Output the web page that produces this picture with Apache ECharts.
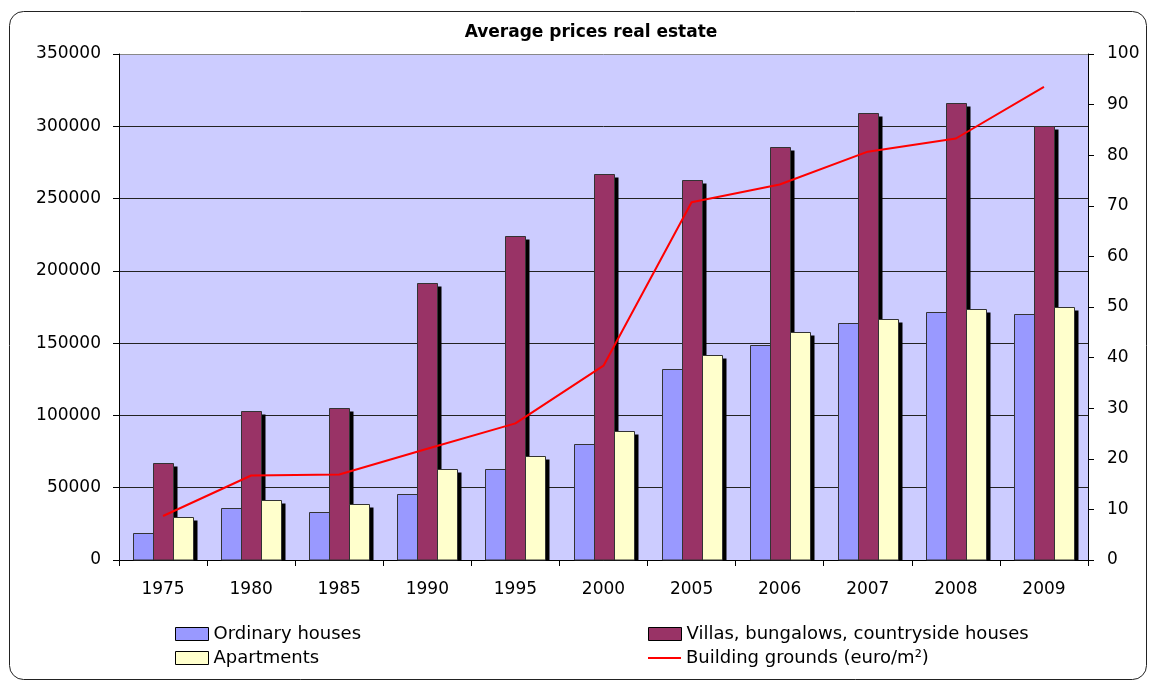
<!DOCTYPE html>
<html><head><meta charset="utf-8">
<script src="https://cdn.jsdelivr.net/npm/echarts@6/dist/echarts.min.js"></script>
<style>html,body{margin:0;padding:0;background:#fff}#c{width:1151px;height:682px}</style>
</head><body><div id="c"></div>
<script>
var years = ['1975','1980','1985','1990','1995','2000','2005','2006','2007','2008','2009'];
var ordinaryHouses = [19000,36000,33000,45500,63000,80000,132000,149000,164000,171500,170000];
var villas = [67000,103000,105000,191500,224000,267000,263000,286000,309000,316000,300000];
var apartments = [30000,41500,39000,63000,72000,89000,141500,157500,167000,173500,175000];
var buildingGrounds = [8.7,16.7,16.9,22.0,27.0,38.4,70.7,74.2,80.7,83.3,93.5];
var leftTicks = [0,350000,50000];
var rightTicks = [0,100,10];

var FONT = 'DejaVu Sans';
var chart = echarts.init(document.getElementById('c'), null, {renderer:'canvas'});

function barSeries(name, values, idx, color){
  return {
    name:name, type:'custom', xAxisIndex:0, yAxisIndex:0,
    data: values.map(function(v,i){return [i,v];}),
    encode:{x:0, y:1},
    itemStyle:{color:color, borderColor:'#000', borderWidth:1},
    renderItem:function(params, api){
      var cat = api.value(0), val = api.value(1);
      var base = api.coord([cat, 0]);
      var top = api.coord([cat, val]);
      var band = api.size([1, 0])[0];
      var bw = Math.round(band * 0.667 / 3);
      var x0 = Math.round(base[0] - 1.5 * bw + idx * bw) + 0.5;
      var y0 = Math.round(top[1]) + 0.5;
      var yb = Math.round(base[1]);
      return {type:'group', children:[
        {type:'rect', shape:{x:x0 + 1, y:y0 + 3, width:bw + 3, height:yb - y0 - 3},
          style:{fill:'#000'}},
        {type:'rect', shape:{x:x0, y:y0, width:bw, height:yb - y0},
          style:{fill:color, stroke:'#333', lineWidth:1}}
      ]};
    }
  };
}
function legendAt(item, left, top, h){
  return {data:[item], left:left, top:top, itemWidth:33, itemHeight:h || 13, padding:0,
    selectedMode:false, textStyle:{fontFamily:FONT, fontSize:18, color:'#000'}};
}
function boxItem(name, color){
  return {name:name, icon:'rect', itemStyle:{color:color, borderColor:'#000', borderWidth:1}};
}
chart.setOption({
  animation:false,
  backgroundColor:'#fff',
  title:{text:'Average prices real estate', left:586, textAlign:'center', top:19,
    textStyle:{fontFamily:FONT, fontSize:17, fontWeight:'bold', color:'#000'}},
  graphic:[{type:'rect', shape:{x:9.5, y:11.5, width:1137, height:668, r:14},
    style:{fill:'none', stroke:'#222', lineWidth:1}, z:-1}],
  legend:[
    legendAt(boxItem('Ordinary houses','#9999FF'),175,625),
    legendAt(boxItem('Apartments','#FFFFCC'),175,649),
    legendAt(boxItem('Villas, bungalows, countryside houses','#993366'),648,625),
    legendAt({name:'Building grounds (euro/m²)', icon:'rect',
      itemStyle:{color:'#FF0000', borderWidth:0}},648,649,2)
  ],
  grid:{left:119, top:54, right:63, bottom:122, show:true, backgroundColor:'#CCCCFF', borderWidth:0},
  xAxis:{type:'category', data:years,
    axisLine:{lineStyle:{color:'#000', width:1}},
    axisTick:{show:true, length:6, lineStyle:{color:'#000'}},
    axisLabel:{fontFamily:FONT, fontSize:17, color:'#000', margin:21}},
  yAxis:[
    {type:'value', min:leftTicks[0], max:leftTicks[1], interval:leftTicks[2],
      axisLine:{show:true, lineStyle:{color:'#000'}},
      axisTick:{show:true, length:6, lineStyle:{color:'#000'}},
      axisLabel:{fontFamily:FONT, fontSize:17, color:'#000', margin:18,
        formatter:function(v){return String(v);}},
      splitLine:{show:true, lineStyle:{color:['#222','#222','#222','#222','#222','#222','#222','#888'], width:1}}},
    {type:'value', min:rightTicks[0], max:rightTicks[1], interval:rightTicks[2],
      position:'right',
      axisLine:{show:true, lineStyle:{color:'#000'}},
      axisTick:{show:true, length:6, lineStyle:{color:'#000'}},
      axisLabel:{fontFamily:FONT, fontSize:17, color:'#000', margin:19},
      splitLine:{show:false}}
  ],
  series:[
    barSeries('Ordinary houses', ordinaryHouses, 0, '#9999FF'),
    barSeries('Villas, bungalows, countryside houses', villas, 1, '#993366'),
    barSeries('Apartments', apartments, 2, '#FFFFCC'),
    {name:'Building grounds (euro/m²)', type:'line', yAxisIndex:1, data:buildingGrounds,
      symbol:'none', lineStyle:{color:'#FF0000', width:2}, itemStyle:{color:'#FF0000'}, z:5}
  ]
});
</script></body></html>
